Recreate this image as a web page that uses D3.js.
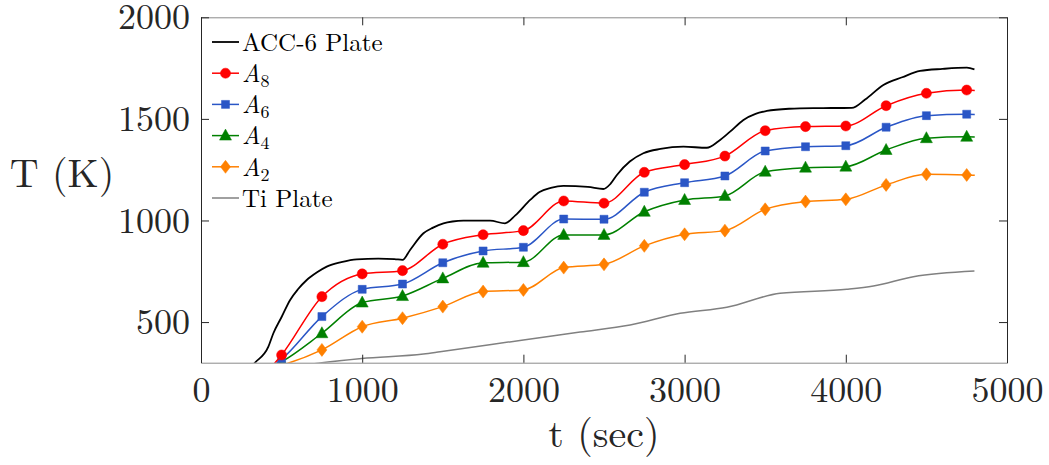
<!DOCTYPE html>
<html>
<head>
<meta charset="utf-8">
<script src="https://cdn.jsdelivr.net/npm/d3@7"></script>
<style>
  body { margin: 0; background: #fff; }
</style>
</head>
<body>
<svg width="1049" height="465"></svg>
<script>
// times of the marker series (first and last are line-only points)
var tLine = [250, 500, 750, 1000, 1250, 1500, 1750, 2000, 2250, 2500, 2750, 3000, 3250, 3500, 3750, 4000, 4250, 4500, 4750, 4800];
var a8 = [130, 338, 625, 737, 753, 883, 930, 950, 1096, 1085, 1237, 1275, 1317, 1442, 1462, 1465, 1565, 1626, 1642, 1640];
var a6 = [210, 317, 527, 661, 687, 792, 850, 868, 1007, 1006, 1139, 1186, 1219, 1342, 1363, 1368, 1459, 1516, 1523, 1522];
var a4 = [230, 305, 445, 596, 628, 715, 792, 795, 929, 929, 1043, 1101, 1121, 1240, 1260, 1265, 1347, 1405, 1412, 1411];
var a2 = [250, 288, 363, 477, 519, 576, 650, 658, 768, 784, 875, 932, 950, 1055, 1093, 1104, 1175, 1227, 1224, 1222];

// ACC-6 plate (no markers)
var tAcc = [250, 335, 418, 449, 500, 553, 600, 656, 720, 780, 870, 966, 1100, 1200, 1250, 1297, 1380, 1440, 1504, 1560, 1628, 1793, 1886, 1950, 2042, 2100, 2170, 2248, 2400, 2496, 2540, 2580, 2660, 2744, 2850, 2993, 3138, 3210, 3282, 3365, 3440, 3510, 3650, 3799, 4037, 4120, 4233, 4350, 4461, 4600, 4751, 4798];
var vAcc = [230, 300, 379, 445, 525, 609, 660, 707, 745, 773, 795, 809, 812, 810, 806, 855, 937, 965, 986, 995, 999, 999, 986, 1025, 1101, 1140, 1160, 1170, 1165, 1155, 1180, 1224, 1290, 1331, 1352, 1363, 1358, 1390, 1437, 1495, 1525, 1539, 1550, 1553, 1554, 1595, 1667, 1705, 1736, 1746, 1752, 1744];

// Ti plate
var tTi = [500, 750, 997, 1380, 1483, 2000, 2352, 2662, 2972, 3262, 3592, 4006, 4171, 4419, 4798];
var vTi = [270, 300, 321, 343, 354, 412, 451, 486, 543, 573, 642, 661, 677, 723, 751];

var xTicks = [0, 1000, 2000, 3000, 4000, 5000];
var yTicks = [500, 1000, 1500, 2000];

var FONT = "'Latin Modern Roman', 'Liberation Serif', serif";
var INK = "#262626";

var svg = d3.select("svg");
var plotLeft = 201, plotRight = 1007, plotTop = 17.3, plotBottom = 362.7;

var x = d3.scaleLinear().domain([0, 5000]).range([plotLeft, plotRight]);
var y = d3.scaleLinear().domain([300, 2000]).range([plotBottom, plotTop]);

svg.append("defs").append("clipPath").attr("id", "plot")
  .append("rect").attr("x", plotLeft).attr("y", plotTop)
  .attr("width", plotRight - plotLeft).attr("height", plotBottom - plotTop);

// marker shapes
function markerPath(kind) {
  if (kind == "circle") return d3.symbol().type(d3.symbolCircle).size(80)();
  if (kind == "square") return "M-4,-4H4V4H-4Z";
  if (kind == "triangle") return "M0,-6.5L6,4.5H-6Z";
  return "M0,-6.5L5,0L0,6.5L-5,0Z";
}

var series = [
  { name: "A", sub: "8", color: "#ff0000", marker: "circle", values: a8 },
  { name: "A", sub: "6", color: "#2a56c6", marker: "square", values: a6 },
  { name: "A", sub: "4", color: "#008000", marker: "triangle", values: a4 },
  { name: "A", sub: "2", color: "#ff8000", marker: "diamond", values: a2 }
];

var line = d3.line()
  .x(function(d) { return x(d[0]); })
  .y(function(d) { return y(d[1]); })
  .curve(d3.curveMonotoneX);

var plot = svg.append("g").attr("clip-path", "url(#plot)");

// Ti plate
plot.append("path")
  .attr("d", line(d3.zip(tTi, vTi)))
  .attr("fill", "none").attr("stroke", "#808080").attr("stroke-width", 1.5);

// ACC-6 plate
plot.append("path")
  .attr("d", line(d3.zip(tAcc, vAcc)))
  .attr("fill", "none").attr("stroke", "#000").attr("stroke-width", 1.8);

series.slice().reverse().forEach(function(s) {
  var pts = d3.zip(tLine, s.values);
  plot.append("path")
    .attr("d", line(pts))
    .attr("fill", "none").attr("stroke", s.color).attr("stroke-width", 1.5);
  plot.selectAll(null)
    .data(pts.filter(function(d) { return d[0] >= 500 && d[0] <= 4750 && d[1] >= 300; }))
    .enter().append("path")
    .attr("transform", function(d) { return "translate(" + x(d[0]) + "," + y(d[1]) + ")"; })
    .attr("d", markerPath(s.marker))
    .attr("fill", s.color).attr("stroke", s.color).attr("stroke-width", 0.5);
});

// axes, ticks pointing inward
var gx = svg.append("g").attr("transform", "translate(0," + plotBottom + ")")
  .call(d3.axisBottom(x).tickValues(xTicks).tickSizeInner(-8).tickSizeOuter(0).tickPadding(14).tickFormat(d3.format("d")));
var gxTop = svg.append("g").attr("transform", "translate(0," + plotTop + ")")
  .call(d3.axisTop(x).tickValues(xTicks).tickSizeInner(-8).tickSizeOuter(0).tickFormat(""));
var gy = svg.append("g").attr("transform", "translate(" + plotLeft + ",0)")
  .call(d3.axisLeft(y).tickValues(yTicks).tickSizeInner(-8).tickSizeOuter(0).tickPadding(11).tickFormat(d3.format("d")));
var gyRight = svg.append("g").attr("transform", "translate(" + plotRight + ",0)")
  .call(d3.axisRight(y).tickValues(yTicks).tickSizeInner(-8).tickSizeOuter(0).tickFormat(""));

[gx, gxTop].forEach(function(g) {
  g.select(".domain").attr("stroke", "#8a8a8a");
  g.selectAll(".tick line").attr("stroke", INK);
});
[gy, gyRight].forEach(function(g) {
  g.select(".domain").attr("stroke", INK);
  g.selectAll(".tick line").attr("stroke", INK);
});
gxTop.selectAll(".tick text").remove();
gyRight.selectAll(".tick text").remove();
svg.selectAll(".tick text")
  .style("font-family", FONT)
  .style("font-size", "36px").attr("fill", INK);

// axis labels
svg.append("text").attr("x", (plotLeft + plotRight) / 2).attr("y", 447)
  .attr("text-anchor", "middle").style("font-family", FONT).style("font-size", "40px")
  .attr("fill", INK).text("t (sec)");
svg.append("text").attr("x", 62).attr("y", 187)
  .attr("text-anchor", "middle").style("font-family", FONT).style("font-size", "40px")
  .attr("fill", INK).text("T (K)");

// legend
var legendRows = [
  { label: "ACC-6 Plate", color: "#000", width: 1.8 },
  series[0], series[1], series[2], series[3],
  { label: "Ti Plate", color: "#808080", width: 1.5 }
];
var legend = svg.append("g");
legendRows.forEach(function(r, i) {
  var cy = 42 + i * 31.2;
  legend.append("line").attr("x1", 212).attr("x2", 239).attr("y1", cy).attr("y2", cy)
    .attr("stroke", r.color).attr("stroke-width", r.width || 1.5);
  if (r.marker) {
    legend.append("path").attr("transform", "translate(225.5," + cy + ")")
      .attr("d", markerPath(r.marker)).attr("fill", r.color).attr("stroke", r.color).attr("stroke-width", 0.5);
  }
  var t = legend.append("text").attr("x", 242).attr("y", cy).attr("dy", "0.35em")
    .style("font-family", FONT).style("font-size", "25px").attr("fill", "#000");
  if (r.label) {
    t.text(r.label);
  } else {
    t.append("tspan").style("font-style", "italic").text(r.name);
    t.append("tspan").style("font-size", "18px").attr("dy", "5").text(r.sub);
  }
});
</script>
</body>
</html>
